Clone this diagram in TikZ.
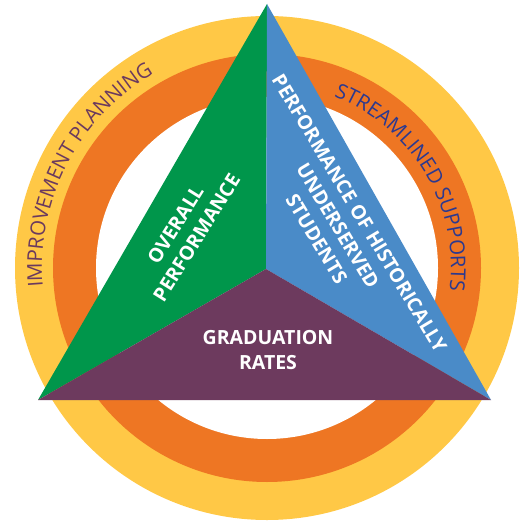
\documentclass[tikz,border=0pt]{standalone}
\usepackage{fontspec}
\setmainfont{Open Sans}
\usetikzlibrary{decorations.text}
\definecolor{ringyellow}{HTML}{FFC846}
\definecolor{ringorange}{HTML}{EE7623}
\definecolor{trigreen}{HTML}{00964B}
\definecolor{triblue}{HTML}{4A8BC8}
\definecolor{tripurple}{HTML}{6D3A5E}
\definecolor{textpurple}{HTML}{6B3A5E}
\definecolor{textblue}{HTML}{2B3990}
\tikzset{
  tritext/.style={text=white, font=\fontsize{19.5}{25}\selectfont\bfseries, align=center, inner sep=0pt},
}
\begin{document}
\begin{tikzpicture}[x=1pt,y=1pt]
\useasboundingbox (0,0) rectangle (527,523);
\coordinate (C) at (267,255);
% rings
\fill[ringyellow] (C) circle[radius=252];
\fill[ringorange] (C) circle[radius=214];
\fill[white] (C) circle[radius=171];
% triangle
\coordinate (A) at (267,519);
\coordinate (L) at (38,123);
\coordinate (R) at (491,123);
\coordinate (M) at (266,254);
\fill[trigreen] (A) -- (L) -- (M) -- cycle;
\fill[triblue] (A) -- (M) -- (R) -- cycle;
\fill[tripurple] (L) -- (R) -- (M) -- cycle;
% arc texts
\path[decorate, decoration={text along path, text align=center,
  text={|\fontsize{20.5}{24}\selectfont\color{textpurple}|IMPROVEMENT PLANNING}}]
  (C) ++(200:225) arc[start angle=200, end angle=105, radius=225];
\path[decorate, decoration={text along path, text align=center,
  text={|\fontsize{20.5}{24}\selectfont\color{textblue}|STREAMLINED SUPPORTS}}]
  (C) ++(91.5:184) arc[start angle=91.5, end angle=-30, radius=184];
% triangle texts
\node[tritext, rotate=58] (ov) at (186,292) {OVERALL\\PERFORMANCE};
\node[tritext, rotate=-59] (ph) at (338,297) {PERFORMANCE OF HISTORICALLY\\UNDERSERVED\\STUDENTS};
\node[tritext] (gr) at (268,173) {GRADUATION\\RATES};
\end{tikzpicture}
\end{document}
